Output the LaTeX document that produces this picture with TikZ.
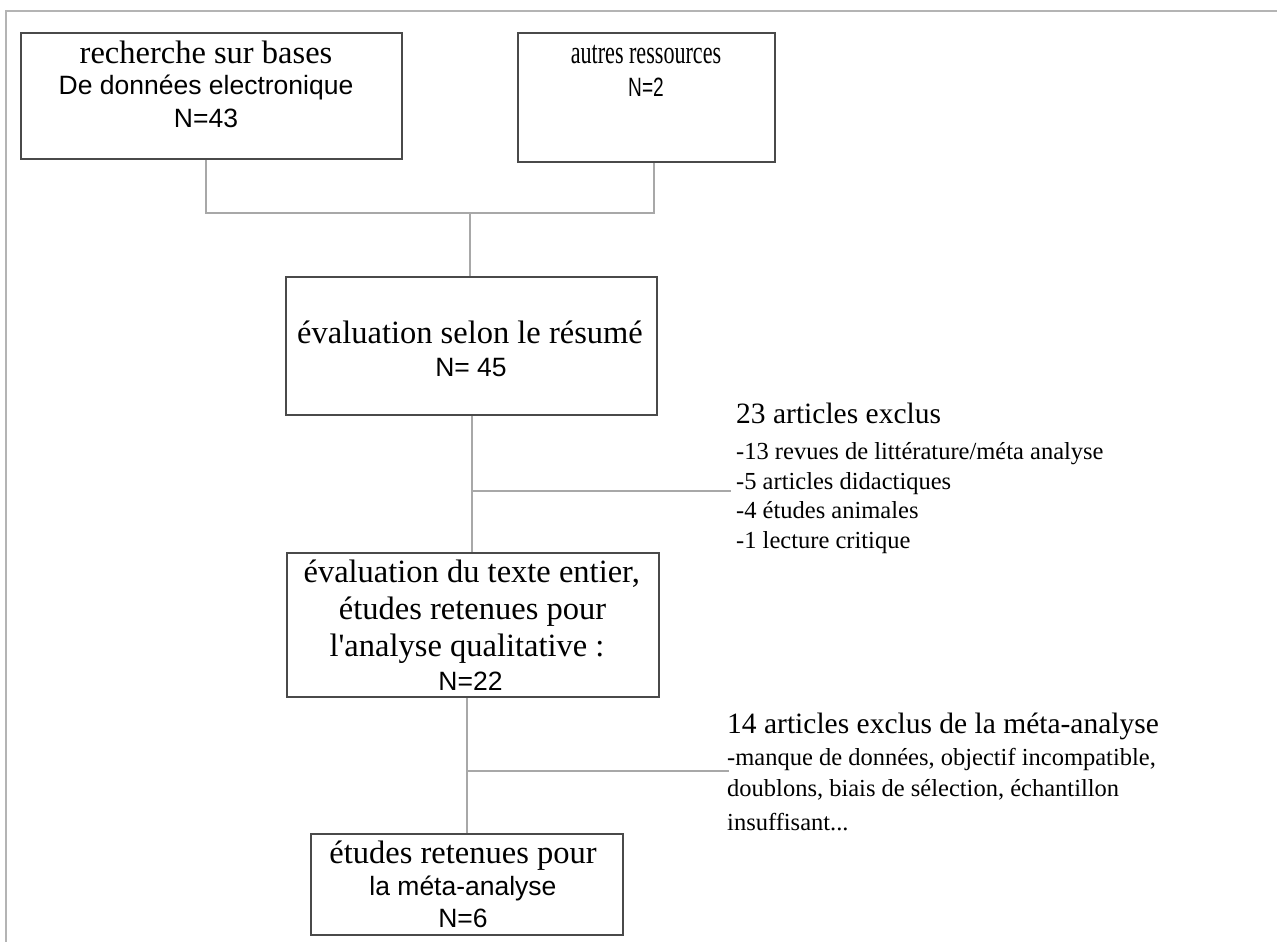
\documentclass[tikz,border=0pt]{standalone}
\usepackage{fontspec}
\usepackage{graphicx}
\setmainfont{Liberation Serif}
\setsansfont{Liberation Sans}
\newfontfamily\serplain{Liberation Serif}[Ligatures=TeXOff]
\definecolor{framegray}{HTML}{B4B4B4}
\definecolor{boxgray}{HTML}{4A4A4A}
\definecolor{conngray}{HTML}{A8A8A8}
\tikzset{
  box/.style={draw=boxgray, line width=2pt, rectangle, inner sep=0pt},
  conn/.style={draw=conngray, line width=2pt},
  frameline/.style={draw=framegray, line width=2pt},
  bser/.style={anchor=base, inner sep=0pt, font=\fontsize{32.5}{39}\selectfont},
  bsan/.style={anchor=base, inner sep=0pt, font=\sffamily\fontsize{26.5}{32}\selectfont},
  rhead/.style={anchor=base west, inner sep=0pt, font=\fontsize{29.5}{35}\selectfont},
  ritem/.style={anchor=base west, inner sep=0pt, font=\fontsize{24.5}{29}\selectfont},
}
\begin{document}
\begin{tikzpicture}[x=1pt,y=-1pt]
\useasboundingbox (0,0) rectangle (1277,942);
% outer frame (top and left)
\draw[frameline] (1280,11) -- (6,11) -- (6,945);
% boxes
\node[box, minimum width=381, minimum height=126] (b1) at (211.5,96) {};
\node[box, minimum width=257, minimum height=129] (b2) at (646.5,97.5) {};
\node[box, minimum width=371, minimum height=138.5] (b3) at (471.5,346) {};
\node[box, minimum width=372, minimum height=144] (b4) at (473,625) {};
\node[box, minimum width=312, minimum height=101] (b5) at (467,884.5) {};
% box texts
\node[bser] (t1a) at (206,63.5) {recherche sur bases};
\node[bsan] (t1b) at (206,95) {De données electronique};
\node[bsan] (t1c) at (206,127) {N=43};
\node[bser] (t2a) at (646,63.5) {\scalebox{0.68}[1]{autres ressources}};
\node[bsan] (t2b) at (646,96) {\scalebox{0.72}[1]{N=2}};
\node[bser] (t3a) at (470,343.5) {évaluation selon le résumé};
\node[bsan] (t3b) at (471,376) {N= 45};
\node[bser] (t4a) at (471.7,582) {évaluation du texte entier,};
\node[bser] (t4b) at (472.5,619) {études retenues pour};
\node[bser] (t4c) at (467,656.5) {\serplain l'analyse qualitative :};
\node[bsan] (t4d) at (470.5,690) {N=22};
\node[bser] (t5a) at (463,863) {études retenues pour};
\node[bsan] (t5b) at (463,895) {la méta-analyse};
\node[bsan] (t5c) at (463,927) {N=6};
% exclusion texts
\node[rhead] (x1) at (736,423.3) {23 articles exclus};
\node[ritem] (x1a) at (736,459.5) {-13 revues de littérature/méta analyse};
\node[ritem] (x1b) at (736,489) {-5 articles didactiques};
\node[ritem] (x1c) at (736,518.5) {-4 études animales};
\node[ritem] (x1d) at (736,548) {-1 lecture critique};
\node[rhead] (x2) at (727,733.3) {14 articles exclus de la méta-analyse};
\node[ritem] (x2a) at (727,765) {-manque de données, objectif incompatible,};
\node[ritem] (x2b) at (727,796.7) {doublons, biais de sélection, échantillon};
\node[ritem] (x2c) at (727,830) {insuffisant...};
% connectors
\coordinate (j1) at (470,212.5);
\coordinate (e1) at (731,490.7);
\coordinate (e2) at (729,770.7);
\draw[conn] ([xshift=-5.8pt]b1.south) |- (j1) -| ([xshift=7.5pt]b2.south);
\draw[conn] (j1) -- (j1 |- b3.north);
\draw[conn] (b3.south) -- (b3.south |- b4.north);
\draw[conn] (b3.south |- e1) -- (e1);
\draw[conn] (b5.north) -- (b5.north |- b4.south);
\draw[conn] (b5.north |- e2) -- (e2);
\end{tikzpicture}
\end{document}
